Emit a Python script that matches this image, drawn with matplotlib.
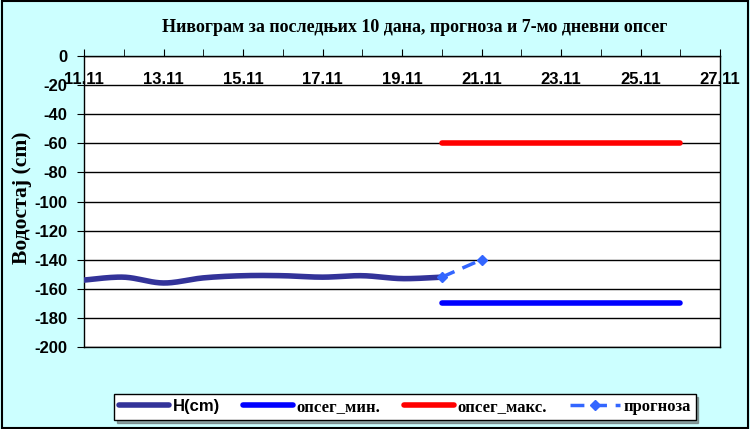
import numpy as np
import matplotlib
matplotlib.use('Agg')
import matplotlib.pyplot as plt
from matplotlib.patches import Rectangle

plt.rcParams['axes.unicode_minus'] = False

# days of November
h_days = [11, 12, 13, 14, 15, 16, 17, 18, 19, 20]
h_vals = [-154, -152, -156, -152.5, -151, -151, -152, -151, -153, -152]
range_days = [20, 26]
range_min = [-170, -170]
range_max = [-60, -60]
fc_days = [20, 21]
fc_vals = [-152, -140]
tick_days = list(range(11, 28, 2))
tick_labels = ['%d.11' % d for d in tick_days]

title = 'Нивограм за последњих 10 дана, прогноза и 7-мо дневни опсег'
ylabel = 'Водостај (cm)'

bg = '#ccffff'
fig = plt.figure(figsize=(7.5, 4.29), dpi=100, facecolor=bg)
ax = fig.add_axes([84 / 750, 1 - 347 / 429, 636 / 750, 291 / 429])
ax.set_facecolor('white')


def catmull(x, y, n=20):
    # smoothed line through the points, like Excel's smoothed line
    x = np.asarray(x, float)
    y = np.asarray(y, float)
    px = np.concatenate(([x[0]], x, [x[-1]]))
    py = np.concatenate(([y[0]], y, [y[-1]]))
    ox, oy = [], []
    for i in range(1, len(px) - 2):
        t = np.linspace(0, 1, n, endpoint=False)
        for arr, out in ((px, ox), (py, oy)):
            p0, p1, p2, p3 = arr[i - 1], arr[i], arr[i + 1], arr[i + 2]
            out.extend(0.5 * ((2 * p1) + (-p0 + p2) * t + (2 * p0 - 5 * p1 + 4 * p2 - p3) * t ** 2
                              + (-p0 + 3 * p1 - 3 * p2 + p3) * t ** 3))
    ox.append(x[-1])
    oy.append(y[-1])
    return ox, oy


sx, sy = catmull(h_days, h_vals)
ax.plot(sx, sy, color='#333399', lw=4, solid_capstyle='round', label='H(cm)', zorder=3)
ax.plot(range_days, range_min, color='#0000ff', lw=4, solid_capstyle='round', label='опсег_мин.', zorder=3)
ax.plot(range_days, range_max, color='#ff0000', lw=4, solid_capstyle='round', label='опсег_макс.', zorder=3)
ax.plot(fc_days, fc_vals, color='#3366ff', lw=2.5, ls=(0, (4, 2.5)), marker='D', ms=5,
        label='прогноза', zorder=4)

ax.set_xlim(11, 27)
ax.set_ylim(-200, 0)
ax.set_yticks(np.arange(-200, 1, 20))
ax.yaxis.grid(True, color='black', lw=1)
ax.set_axisbelow(True)
for s in ax.spines.values():
    s.set_color('black')
    s.set_linewidth(1)

ax.set_xticks(tick_days)
ax.set_xticklabels(tick_labels)
ax.set_xticks(range(11, 28), minor=True)
ax.tick_params(axis='x', which='both', top=True, bottom=False, labeltop=True, labelbottom=False,
               direction='out', length=5, pad=-27)
ax.tick_params(axis='y', direction='out', length=5, pad=7)
for lab in ax.get_xticklabels() + ax.get_yticklabels():
    lab.set_family('Liberation Sans')
    lab.set_fontweight('bold')
    lab.set_fontsize(12)

fig.text(415 / 750, 1 - 28 / 429, title, ha='center', va='center',
         family='Liberation Serif', fontweight='bold', fontsize=13)
fig.text(22 / 750, 1 - 198 / 429, ylabel, ha='center', va='center', rotation=90,
         family='Liberation Serif', fontweight='bold', fontsize=15.5)

leg = fig.legend(loc='center', bbox_to_anchor=(405 / 750, 1 - 407 / 429), ncol=4,
                 frameon=True, fancybox=False, shadow=True, handlelength=3.0,
                 columnspacing=1.4, handletextpad=0.2, borderpad=0.3,
                 prop={'family': 'Liberation Serif', 'weight': 'bold', 'size': 12})
leg.get_frame().set_edgecolor('black')
leg.get_frame().set_linewidth(1)
leg.get_texts()[0].set_family('Liberation Sans')

fig.patches.append(Rectangle((0.002, 0.003), 0.995, 0.994, transform=fig.transFigure,
                             fill=False, edgecolor='black', lw=1.5))

fig.savefig('out.png', dpi=100, facecolor=bg)
